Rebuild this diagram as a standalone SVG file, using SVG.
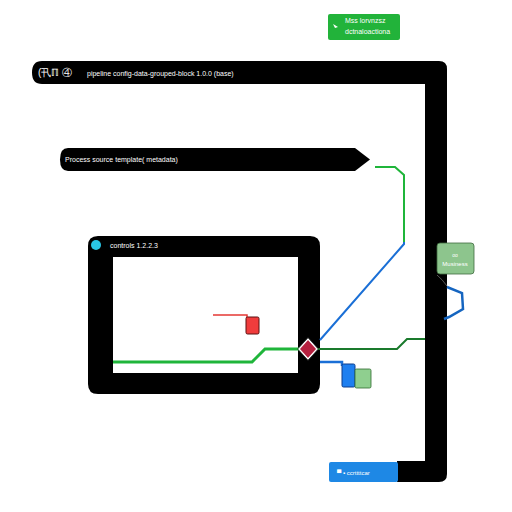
<svg xmlns="http://www.w3.org/2000/svg" width="512" height="512" viewBox="0 0 512 512">
<style>
.t{font-family:"Liberation Sans",Arial,sans-serif;fill:#ffffff}
.s{font-size:7px}
.ln{fill:none;stroke-linejoin:miter}
</style>
<rect width="512" height="512" fill="#ffffff"/>
<g id="frame">
<path d="M42 61 H439 Q447 61 447 69 V474 Q447 482 439 482 H397 V461 H425 V84 H42 Q32 84 32 72.5 Q32 61 42 61 Z" fill="#000"/>
<text class="t" x="38" y="76" font-size="10">(卂ℿ ④</text>
<text class="t s" x="87" y="75.5">pipeline config-data-grouped-block 1.0.0 (base)</text>
</g>
<g id="header">
<path d="M68 148 H355 L370 159.5 L355 171 H68 Q60 171 60 159.5 Q60 148 68 148 Z" fill="#000"/>
<text class="t s" x="65" y="162">Process source template( metadata)</text>
</g>
<g id="panel">
<path fill-rule="evenodd" fill="#000" d="M98 236 H310 Q320 236 320 246 V384 Q320 394 310 394 H98 Q88 394 88 384 V246 Q88 236 98 236 Z M113 257 V373 H298 V257 Z"/>
<circle cx="96" cy="245" r="5" fill="#29c6e6"/>
<text class="t s" x="110" y="247.5">controls 1.2.2.3</text>
</g>
<g id="connectors">
<polyline class="ln" points="375,167 395,167 404,175 404,242" stroke="#1fb53a" stroke-width="2"/>
<polyline class="ln" points="404,242 404,244 320,340" stroke="#1a6fd6" stroke-width="2"/>
<polyline class="ln" points="113,362 252,362 265,349 300,349" stroke="#1fb53a" stroke-width="3"/>
<polyline class="ln" points="315,349 397,349 407,339 425,339" stroke="#1a7a2c" stroke-width="2"/>
<polyline class="ln" points="213,315 247,315 247,318" stroke="#e53935" stroke-width="1.5"/>
<polyline class="ln" points="320,362 342,362 342,366" stroke="#1a6fd6" stroke-width="2.5"/>
<polyline class="ln" points="447,287 462,293 463,309 449,317 444,319" stroke="#1565c0" stroke-width="2.5"/>
<path d="M437 275 Q442 279 447 286" fill="none" stroke="#555" stroke-width="1"/>
</g>
<g id="red-node">
<rect x="246" y="317" width="13" height="17" rx="1.5" fill="#f03c3c" stroke="#5a1010" stroke-width="1"/>
</g>
<g id="diamond">
<path d="M308 339 L317 349 L308 359 L299 349 Z" fill="#b5203f" stroke="#ffffff" stroke-width="1.5"/>
<path d="M308 337.5 L318.5 349 L308 360.5 L297.5 349 Z" fill="none" stroke="#333" stroke-width="0.7"/>
</g>
<g id="blue-node">
<rect x="342" y="364" width="13" height="23" rx="1.5" fill="#1e7ff0" stroke="#0d3d8c" stroke-width="1"/>
</g>
<g id="green-node">
<rect x="355" y="369" width="16" height="19" rx="1.5" fill="#8fcf8f" stroke="#2e6b2e" stroke-width="0.8"/>
</g>
<g id="green-card">
<rect x="437" y="243" width="37" height="31" rx="3" fill="#8dc58d" stroke="#3f6b3f" stroke-width="0.8"/>
<text class="t" x="455" y="257" font-size="5" text-anchor="middle">oo</text>
<text class="t" x="455" y="266" font-size="6" text-anchor="middle">Musiness</text>
</g>
<g id="top-button">
<rect x="328" y="14" width="72" height="26" rx="2" fill="#22b33a"/>
<path d="M333 24 L338 27 L335 28 Z" fill="#fff"/>
<text class="t s" x="345" y="23">Mss  lorvnzsz</text>
<text class="t s" x="345" y="34">dctnaloactiona</text>
</g>
<g id="bottom-button">
<rect x="329" y="462" width="69" height="20" rx="2" fill="#1e88e5"/>
<text class="t" x="337" y="474.5" font-size="6">▀  ▪ ccrttttcar</text>
</g>
</svg>
